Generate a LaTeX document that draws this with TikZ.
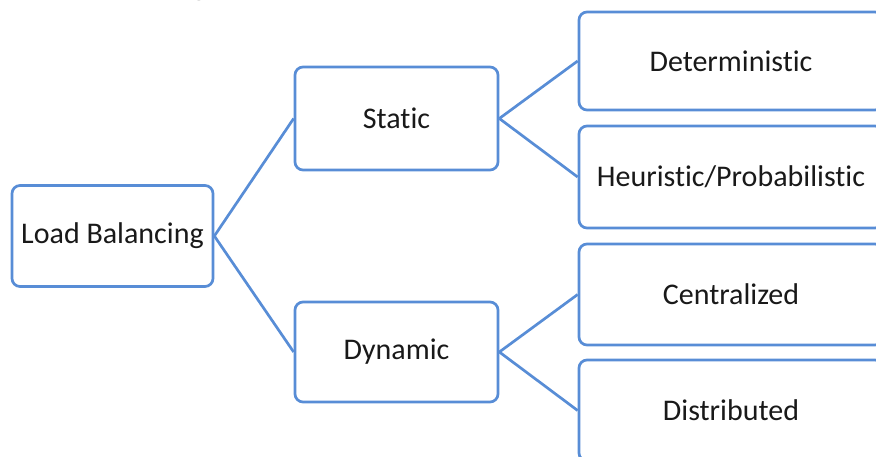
\documentclass[tikz,border=0pt]{standalone}
\usepackage{fontspec}
\setmainfont[Ligatures=NoCommon]{Carlito}
\definecolor{edgeblue}{RGB}{88,141,214}
\definecolor{inkgray}{RGB}{25,25,25}
\tikzset{
  box/.style={draw=edgeblue, line width=2.7pt, rounded corners=8pt, fill=white,
    text=inkgray, inner sep=0pt, align=center,
    font=\fontsize{30}{36}\selectfont},
  link/.style={draw=edgeblue, line width=2.7pt},
}
\begin{document}
\begin{tikzpicture}[x=1pt,y=-1pt]
\useasboundingbox (0,0) rectangle (876,457);
\clip (0,0) rectangle (876,457);
% caption line above the chart, only its descenders fall inside the page
\node[anchor=base west, inner sep=0pt, text=inkgray, font=\fontsize{30}{36}\selectfont]
  (caption) at (192,-4) {\llap{Load balancin}g approaches};
% root
\node[box, minimum width=201pt, minimum height=101pt] (lb) at (112.5,236) {Load Balancing};
% second level
\node[box, minimum width=203pt, minimum height=103pt] (st) at (396.5,118.5) {Static};
\node[box, minimum width=203pt, minimum height=100pt] (dy) at (396.5,352) {Dynamic};
% leaves
\node[box, minimum width=304pt, minimum height=98pt]  (de) at (731,61)    {Deterministic};
\node[box, minimum width=304pt, minimum height=102pt] (he) at (731,177)   {Heuristic/Probabilistic};
\node[box, minimum width=304pt, minimum height=101pt] (ce) at (731,294.5) {Centralized};
\node[box, minimum width=304pt, minimum height=101pt] (di) at (731,410.5) {Distributed};
% connectors
\draw[link] (lb.east) -- (st.west);
\draw[link] (lb.east) -- (dy.west);
\draw[link] (st.east) -- (de.west);
\draw[link] (st.east) -- (he.west);
\draw[link] (dy.east) -- (ce.west);
\draw[link] (dy.east) -- (di.west);
\end{tikzpicture}
\end{document}
